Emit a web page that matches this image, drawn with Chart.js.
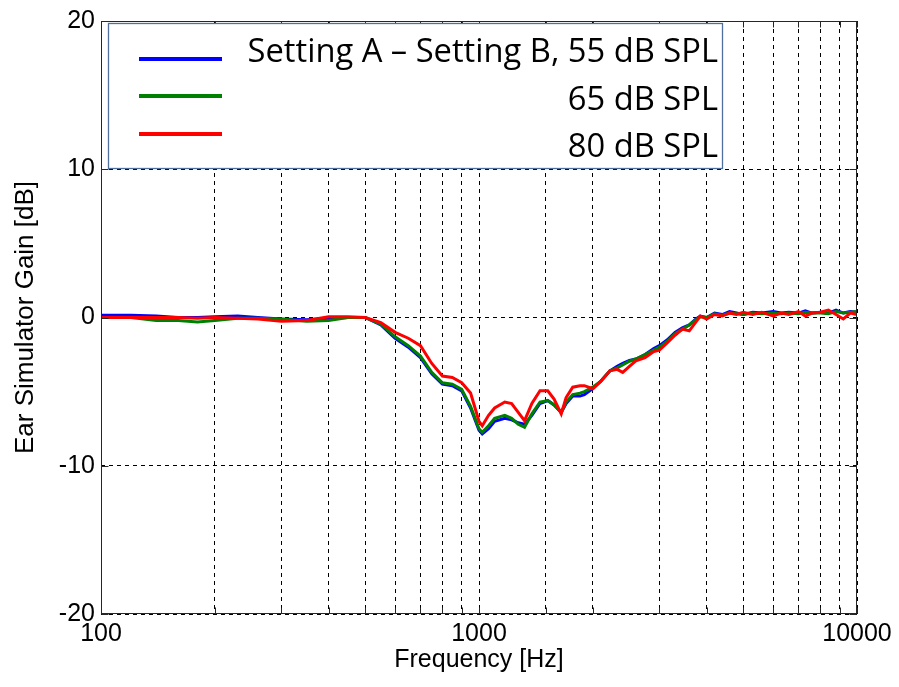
<!DOCTYPE html>
<html>
<head>
<meta charset="utf-8">
<script src="https://cdn.jsdelivr.net/npm/chart.js@4"></script>
<style>
  html, body { margin: 0; padding: 0; background: #ffffff; }
  #wrap { width: 899px; height: 687px; position: relative; }
</style>
</head>
<body>
<div id="wrap"><canvas id="c" width="899" height="687"></canvas></div>
<script>
// ---- data ----
const freqs = [100, 120, 140, 160, 180, 200, 230, 260, 300, 350, 400, 450, 500, 550, 600, 650, 700, 750, 800, 850, 900, 950, 1000, 1020, 1060, 1100, 1170, 1220, 1270, 1320, 1380, 1450, 1520, 1580, 1650, 1700, 1770, 1850, 1900, 2000, 2100, 2220, 2320, 2400, 2500, 2600, 2750, 2900, 3000, 3150, 3300, 3450, 3600, 3750, 3850, 4000, 4200, 4400, 4600, 4800, 5000, 5300, 5600, 6000, 6300, 6600, 7000, 7300, 7600, 8000, 8400, 8800, 9200, 9600, 10000];

const gain55 = [0.15, 0.15, 0.1, 0, 0, 0.05, 0.1, 0, -0.1, -0.15, -0.05, 0, 0, -0.5, -1.4, -2.0, -2.7, -3.8, -4.5, -4.6, -4.95, -6.1, -7.6, -7.85, -7.5, -7.0, -6.8, -6.9, -7.1, -7.2, -6.6, -5.8, -5.6, -5.9, -6.4, -5.8, -5.3, -5.3, -5.2, -4.8, -4.3, -3.6, -3.3, -3.1, -2.9, -2.8, -2.5, -2.1, -1.9, -1.5, -1.0, -0.7, -0.5, -0.1, 0.1, 0, 0.3, 0.2, 0.4, 0.3, 0.2, 0.35, 0.3, 0.4, 0.3, 0.35, 0.3, 0.45, 0.3, 0.35, 0.3, 0.5, 0.3, 0.4, 0.35];

const gain65 = [0, 0, -0.2, -0.2, -0.3, -0.2, -0.05, -0.05, -0.1, -0.25, -0.2, 0, 0, -0.45, -1.3, -1.9, -2.6, -3.7, -4.4, -4.5, -4.85, -6.0, -7.5, -7.75, -7.3, -6.8, -6.6, -6.8, -7.2, -7.4, -6.5, -5.7, -5.6, -5.9, -6.4, -5.7, -5.2, -5.1, -5.0, -4.7, -4.3, -3.6, -3.4, -3.2, -2.95, -2.8, -2.5, -2.2, -2.0, -1.6, -1.1, -0.8, -0.5, -0.15, 0.05, 0, 0.25, 0.15, 0.3, 0.25, 0.2, 0.3, 0.25, 0.3, 0.25, 0.3, 0.25, 0.35, 0.3, 0.3, 0.25, 0.4, 0.3, 0.35, 0.4];

const gain80 = [0, 0, 0, 0, -0.05, 0, -0.05, -0.1, -0.25, -0.2, 0.05, 0.05, 0, -0.35, -1.0, -1.4, -1.9, -3.1, -3.95, -4.05, -4.4, -5.1, -7.0, -7.3, -6.6, -6.1, -5.7, -5.8, -6.4, -6.96, -5.8, -4.94, -4.94, -5.5, -6.5, -5.4, -4.7, -4.6, -4.6, -4.8, -4.3, -3.6, -3.5, -3.7, -3.3, -2.92, -2.7, -2.3, -2.2, -1.7, -1.2, -0.78, -0.9, -0.3, 0.1, -0.1, 0.2, 0.1, 0.3, 0.2, 0.35, 0.2, 0.35, 0.1, 0.3, 0.2, 0.4, 0.1, 0.3, 0.35, 0.5, 0.2, -0.1, 0.3, 0.2];

const seriesLabels = ["Setting A \u2013 Setting B, 55 dB SPL", "65 dB SPL", "80 dB SPL"];
const seriesColors = ["#0000ff", "#008000", "#ff0000"];
const xTickLabels = [100, 1000, 10000];
const yTickValues = [-20, -10, 0, 10, 20];

// ---- chart ----
const PLOT = { left: 101, right: 857, top: 19, bottom: 614 };
const W = 899, H = 687;

function pts(g) { return freqs.map((f, i) => ({ x: f, y: g[i] })); }

const frameAndLegend = {
  id: 'frameAndLegend',
  afterDraw(chart) {
    const ctx = chart.ctx;
    const a = chart.chartArea;
    ctx.save();
    // plot frame
    ctx.strokeStyle = '#262626';
    ctx.lineWidth = 1;
    ctx.setLineDash([]);
    const L = Math.round(a.left) + 0.5, T = Math.round(a.top) + 0.5;
    const R = Math.round(a.right) - 0.5, B = Math.round(a.bottom) - 0.5;
    ctx.strokeRect(L, T, R - L, B - T);
    // small inward tick marks (top/bottom at x gridlines, left/right at y ticks)
    const xs = chart.scales.x, ys = chart.scales.y;
    ctx.beginPath();
    xs.ticks.forEach(t => {
      const px = Math.round(xs.getPixelForValue(t.value)) + 0.5;
      ctx.moveTo(px, T); ctx.lineTo(px, T + 6);
      ctx.moveTo(px, B); ctx.lineTo(px, B - 6);
    });
    ys.ticks.forEach(t => {
      const py = Math.round(ys.getPixelForValue(t.value)) + 0.5;
      ctx.moveTo(L, py); ctx.lineTo(L + 7, py);
      ctx.moveTo(R, py); ctx.lineTo(R - 7, py);
    });
    ctx.stroke();
    // legend box
    const lx = 108, ly = 23, lw = 614, lh = 145;
    ctx.fillStyle = '#ffffff';
    ctx.fillRect(lx, ly, lw, lh);
    ctx.strokeStyle = '#4f6f9f';
    ctx.lineWidth = 1.3;
    ctx.strokeRect(lx + 0.5, ly + 0.5, lw, lh);
    const lineYs = [59, 96, 134];
    const textYs = [53, 101, 148];
    ctx.lineWidth = 4;
    for (let i = 0; i < 3; i++) {
      ctx.strokeStyle = seriesColors[i];
      ctx.beginPath();
      ctx.moveTo(139, lineYs[i]);
      ctx.lineTo(222, lineYs[i]);
      ctx.stroke();
    }
    // fit font size so that the first label spans the same width as the reference
    let size = 30;
    ctx.font = size + 'px "Open Sans", sans-serif';
    const w = ctx.measureText(seriesLabels[0]).width;
    size = Math.min(34, size * 470 / w);
    ctx.font = size.toFixed(1) + 'px "Open Sans", sans-serif';
    ctx.fillStyle = '#000000';
    ctx.textAlign = 'right';
    ctx.textBaseline = 'middle';
    for (let i = 0; i < 3; i++) {
      ctx.fillText(seriesLabels[i], 718, textYs[i]);
    }
    ctx.restore();
  }
};

new Chart(document.getElementById('c'), {
  type: 'line',
  data: {
    datasets: [
      { label: seriesLabels[0], data: pts(gain55), borderColor: seriesColors[0], borderWidth: 3, pointRadius: 0, tension: 0, order: 3 },
      { label: seriesLabels[1], data: pts(gain65), borderColor: seriesColors[1], borderWidth: 3, pointRadius: 0, tension: 0, order: 2 },
      { label: seriesLabels[2], data: pts(gain80), borderColor: seriesColors[2], borderWidth: 3, pointRadius: 0, tension: 0, order: 1 }
    ]
  },
  options: {
    responsive: false,
    animation: false,
    events: [],
    layout: { padding: { top: PLOT.top, right: W - PLOT.right, left: 0, bottom: 0 } },
    plugins: { legend: { display: false }, tooltip: { enabled: false } },
    scales: {
      x: {
        type: 'logarithmic',
        min: 100, max: 10000,
        afterFit(s) { s.height = H - PLOT.bottom; },
        border: { display: false, dash: [4, 4] },
        grid: { color: '#000000', lineWidth: 1, drawTicks: false },
        ticks: {
          color: '#000000',
          font: { family: 'Liberation Sans, Arial, sans-serif', size: 25 },
          padding: 5,
          autoSkip: false,
          maxRotation: 0,
          callback(v) { return xTickLabels.includes(v) ? String(v) : ''; }
        },
        title: { display: true, text: 'Frequency [Hz]', color: '#000000', font: { family: 'Liberation Sans, Arial, sans-serif', size: 25 }, padding: { top: 0, bottom: 12 } }
      },
      y: {
        min: -20, max: 20,
        afterFit(s) { s.width = PLOT.left; },
        border: { display: false, dash: [4, 4] },
        grid: { color: '#000000', lineWidth: 1, drawTicks: false },
        afterBuildTicks(s) { s.ticks = yTickValues.map(v => ({ value: v })); },
        ticks: {
          color: '#000000',
          font: { family: 'Liberation Sans, Arial, sans-serif', size: 25 },
          padding: 6
        },
        title: { display: true, text: 'Ear Simulator Gain [dB]', color: '#000000', font: { family: 'Liberation Sans, Arial, sans-serif', size: 26 }, padding: { top: 10, bottom: 4 } }
      }
    }
  },
  plugins: [frameAndLegend]
});
</script>
</body>
</html>
